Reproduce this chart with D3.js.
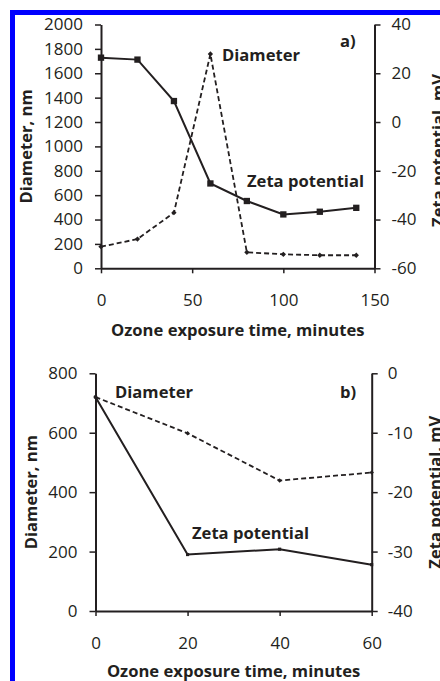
<!DOCTYPE html>
<html>
<head>
<meta charset="utf-8">
<script src="https://cdn.jsdelivr.net/npm/d3@7"></script>
<style>
html,body{margin:0;padding:0;background:#fff;}
svg{display:block;}
</style>
</head>
<body>
<svg id="chart" width="440" height="681"></svg>
<script>
// Panel a) data
const timeA = [0, 20, 40, 60, 80, 100, 120, 140];
const diameterA = [177, 240, 456, 1758, 131, 115, 107, 107];
const zetaA = [26.4, 25.6, 8.6, -25.2, -32.4, -37.9, -36.8, -35.2];
const xTicksA = [0, 50, 100, 150];
const diamTicksA = [0, 200, 400, 600, 800, 1000, 1200, 1400, 1600, 1800, 2000];
const zetaTicksA = [-60, -40, -20, 0, 20, 40];

// Panel b) data
const timeB = [0, 20, 40, 60];
const diameterB = [720, 598, 439, 466];
const zetaB = [-4.0, -30.5, -29.6, -32.2];
const xTicksB = [0, 20, 40, 60];
const diamTicksB = [0, 200, 400, 600, 800];
const zetaTicksB = [-40, -30, -20, -10, 0];

const xTitle = "Ozone exposure time, minutes";
const yLeftTitle = "Diameter, nm";
const yRightTitle = "Zeta potential, mV";

const svg = d3.select("#chart");
const ink = "#231f20";
const FONT = "'Open Sans', sans-serif";
const fmt = d => String(d);

// blue frame
svg.append("rect").attr("x", 10).attr("y", 10).attr("width", 430).attr("height", 5).attr("fill", "#0000ff");
svg.append("rect").attr("x", 10).attr("y", 10).attr("width", 5).attr("height", 671).attr("fill", "#0000ff");

function panel(cfg) {
  const g = svg.append("g");
  const x = d3.scaleLinear().domain(cfg.xDomain).range(cfg.xRange);
  const yL = d3.scaleLinear().domain(cfg.yLDomain).range(cfg.yRange);
  const yR = d3.scaleLinear().domain(cfg.yRDomain).range(cfg.yRange);

  const styleAxis = sel => {
    sel.select(".domain").attr("stroke", ink).attr("stroke-width", 2);
    sel.selectAll(".tick line").attr("stroke", ink).attr("stroke-width", 1.5);
    sel.selectAll("text").attr("fill", ink).attr("font-family", FONT).attr("font-size", 17);
  };

  g.append("g").attr("transform", `translate(0,${cfg.yRange[0]})`)
    .call(d3.axisBottom(x).tickValues(cfg.xTicks).tickSize(5).tickSizeOuter(0).tickPadding(cfg.xPad).tickFormat(fmt))
    .call(styleAxis);
  g.append("g").attr("transform", `translate(${cfg.xRange[0]},0)`)
    .call(d3.axisLeft(yL).tickValues(cfg.yLTicks).tickSize(6).tickSizeOuter(0).tickPadding(cfg.lPad).tickFormat(fmt))
    .call(styleAxis);
  g.append("g").attr("transform", `translate(${cfg.xRange[1]},0)`)
    .call(d3.axisRight(yR).tickValues(cfg.yRTicks).tickSize(6).tickSizeOuter(0).tickPadding(cfg.rPad).tickFormat(fmt))
    .call(styleAxis);

  // diameter dashed line
  const lineD = d3.line().x((d, i) => x(cfg.time[i])).y(d => yL(d));
  g.append("path").datum(cfg.diam).attr("d", lineD).attr("fill", "none")
    .attr("stroke", ink).attr("stroke-width", 1.8).attr("stroke-dasharray", "5,3");
  // zeta solid line
  const lineZ = d3.line().x((d, i) => x(cfg.time[i])).y(d => yR(d));
  g.append("path").datum(cfg.zeta).attr("d", lineZ).attr("fill", "none")
    .attr("stroke", ink).attr("stroke-width", 2);

  // markers
  g.selectAll(".dm").data(cfg.diam).join("path")
    .attr("transform", (d, i) => `translate(${x(cfg.time[i])},${yL(d)}) rotate(45)`)
    .attr("d", d3.symbol(d3.symbolSquare, cfg.dSize)).attr("fill", ink);
  g.selectAll(".zm").data(cfg.zeta).join("path")
    .attr("transform", (d, i) => `translate(${x(cfg.time[i])},${yR(d)})`)
    .attr("d", d3.symbol(d3.symbolSquare, cfg.zSize)).attr("fill", ink);

  const txt = (s, xx, yy, opts = {}) => g.append("text").text(s)
    .attr("x", xx).attr("y", yy).attr("dy", "0.35em")
    .attr("font-family", FONT).attr("font-weight", "bold").attr("font-size", opts.size || 16.6)
    .attr("fill", ink).attr("text-anchor", opts.anchor || "start")
    .attr("transform", opts.rot ? `rotate(-90,${xx},${yy})` : null);

  const xMid = (cfg.xRange[0] + cfg.xRange[1]) / 2;
  const yMid = (cfg.yRange[0] + cfg.yRange[1]) / 2;
  txt(xTitle, xMid, cfg.yRange[0] + cfg.xTitleOff, { anchor: "middle" });
  txt(yLeftTitle, cfg.lTitleX, yMid, { anchor: "middle", rot: true });
  txt(yRightTitle, cfg.rTitleX, yMid + cfg.rTitleDy, { anchor: "middle", rot: true });
  for (const l of cfg.labels) txt(l[0], l[1], l[2]);
}

panel({
  time: timeA, diam: diameterA, zeta: zetaA,
  xDomain: [0, 150], xRange: [101, 374.5],
  yLDomain: [0, 2000], yRDomain: [-60, 40], yRange: [268.3, 24.5],
  xTicks: xTicksA, yLTicks: diamTicksA, yRTicks: zetaTicksA,
  xPad: 21, lPad: 12, rPad: 11, dSize: 14, zSize: 40,
  xTitleOff: 62, lTitleX: 26, rTitleX: 438, rTitleDy: 4,
  labels: [["Diameter", 222, 55], ["a)", 340, 41], ["Zeta potential", 247, 181]]
});

panel({
  time: timeB, diam: diameterB, zeta: zetaB,
  xDomain: [0, 60], xRange: [95.5, 371.7],
  yLDomain: [0, 800], yRDomain: [-40, 0], yRange: [611, 373.3],
  xTicks: xTicksB, yLTicks: diamTicksB, yRTicks: zetaTicksB,
  xPad: 21, lPad: 12, rPad: 10, dSize: 10, zSize: 10,
  xTitleOff: 60, lTitleX: 31, rTitleX: 435, rTitleDy: 0,
  labels: [["Diameter", 115, 392], ["b)", 340, 392], ["Zeta potential", 192, 533]]
});
</script>
</body>
</html>
